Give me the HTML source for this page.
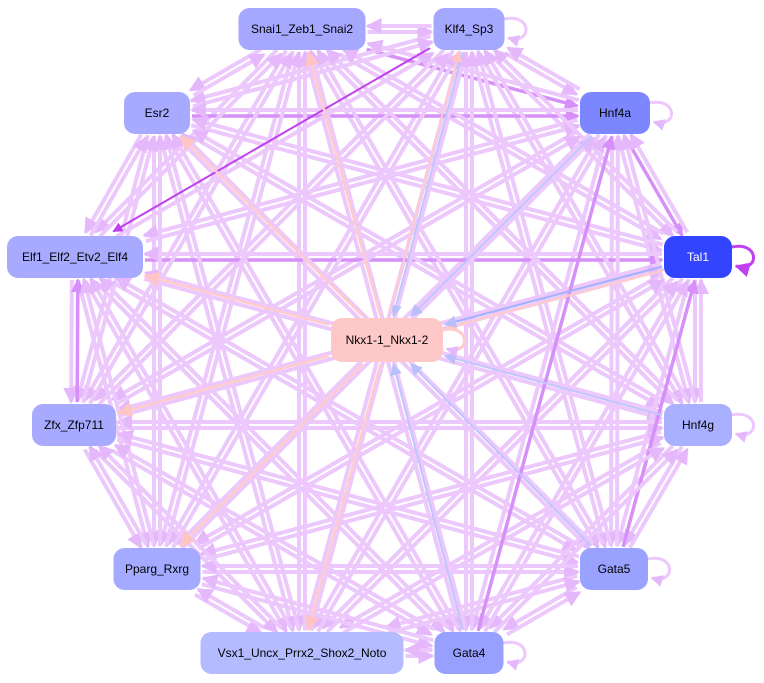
<!DOCTYPE html>
<html><head><meta charset="utf-8"><style>
html,body{margin:0;padding:0;background:#fff;width:764px;height:683px;overflow:hidden}
svg{display:block}
text{font-family:"Liberation Sans",sans-serif;font-size:12px}
</style></head><body>
<svg id="s" width="764" height="683" xmlns="http://www.w3.org/2000/svg">
<defs>
<marker id="ml" markerWidth="4" markerHeight="4" refX="3.5" refY="2" orient="auto" markerUnits="strokeWidth"><path d="M0,0L4,2L0,4z" fill="#e4b8fb"/></marker>
<marker id="md" markerWidth="4" markerHeight="4" refX="3.5" refY="2" orient="auto" markerUnits="strokeWidth"><path d="M0,0L4,2L0,4z" fill="#d690f8"/></marker>
<marker id="mp" markerWidth="5" markerHeight="5" refX="4.5" refY="2.5" orient="auto" markerUnits="strokeWidth"><path d="M0,0L5,2.5L0,5z" fill="#c040f0"/></marker>
<marker id="mb" markerWidth="6" markerHeight="6" refX="5.5" refY="3" orient="auto" markerUnits="strokeWidth"><path d="M0,0L6,3L0,6z" fill="#b8c0fc"/></marker>
<marker id="mk" markerWidth="6" markerHeight="6" refX="5.5" refY="3" orient="auto" markerUnits="strokeWidth"><path d="M0,0L6,3L0,6z" fill="#ffc4c4"/></marker>
</defs>
<g id="e"></g><g id="n"></g>
</svg>
<script>
var N={
S:[302,29,127,42,"#a6a8ff","Snai1_Zeb1_Snai2"],
K:[469,29,71,42,"#a4a8ff","Klf4_Sp3"],
E:[157,113,66,42,"#a8aaff","Esr2"],
H:[615,113,70,42,"#7b86ff","Hnf4a"],
L:[75,257,136,42,"#a8aaff","Elf1_Elf2_Etv2_Elf4"],
T:[698,257,68,42,"#3344ff","Tal1"],
X:[387,340,112,44,"#ffc8c8","Nkx1-1_Nkx1-2"],
Z:[74,425,84,42,"#a8aaff","Zfx_Zfp711"],
G:[698,425,68,42,"#a8b0ff","Hnf4g"],
P:[157,569,87,42,"#a4aaff","Pparg_Rxrg"],
F:[614,569,68,42,"#9aa2ff","Gata5"],
V:[302,653,203,42,"#b4bbff","Vsx1_Uncx_Prrx2_Shox2_Noto"],
A:[469,653,69,42,"#98a0ff","Gata4"]};
var ns="http://www.w3.org/2000/svg",eg=document.getElementById("e"),ng=document.getElementById("n");
function clip(n,dx,dy){var hw=n[2]/2+2,hh=n[3]/2+2;var t=Math.min(dx?hw/Math.abs(dx):1e9,dy?hh/Math.abs(dy):1e9);return [n[0]+dx*t,n[1]+dy*t];}
function line(a,b,col,w,m,off){var A=N[a],B=N[b];var dx=B[0]-A[0],dy=B[1]-A[1],l=Math.hypot(dx,dy);var ox=-dy/l*off,oy=dx/l*off;
var p=clip(A,dx,dy),q=clip(B,-dx,-dy);var el=document.createElementNS(ns,"line");
el.setAttribute("x1",p[0]+ox);el.setAttribute("y1",p[1]+oy);el.setAttribute("x2",q[0]+ox);el.setAttribute("y2",q[1]+oy);
el.setAttribute("stroke",col);el.setAttribute("stroke-width",w);el.setAttribute("marker-end","url(#"+m+")");eg.appendChild(el);}
var keys="SKEHLTZGPFVA".split("");
var dark={"HT":1,"LT":1,"EH":1,"SH":1,"ZL":1,"AH":1,"FT":1};
for(var i=0;i<keys.length;i++)for(var j=0;j<keys.length;j++){if(i==j)continue;var a=keys[i],b=keys[j];
if(a=="K"&&b=="L")continue;
var d=dark[a+b];line(a,b,d?"#d690f8":"#ecc8fc",d?3.5:4,d?"md":"ml",3);}
line("K","L","#c040f0",2,"mp",3);
["K","H","T","G","A","F"].forEach(function(k){line(k,"X","#c0c6fc",2,"mb",0);});
["S","E","L","Z","P","V"].forEach(function(k){line("X",k,"#ffcccc",2.5,"mk",0);});
line("X","K","#ffcccc",2,"mk",-4);line("T","X","#ffcccc",2,"mk",-4);line("T","X","#a8b0fc",2,"mb",0);
function loop(k,col,w){var n=N[k];var x=n[0]+n[2]/2,y=n[1];var p=document.createElementNS(ns,"path");
p.setAttribute("d","M"+(x)+","+(y-10)+" C"+(x+28)+","+(y-16)+" "+(x+28)+","+(y+16)+" "+(x+4)+","+(y+9));
p.setAttribute("fill","none");p.setAttribute("stroke",col);p.setAttribute("stroke-width",w);p.setAttribute("marker-end","url(#"+(col=="#c040f0"?"mp":"ml")+")");eg.appendChild(p);}
["K","H","G","F","A","X"].forEach(function(k){loop(k,k=="X"?"#ffcccc":"#ecc8fc",3);});
loop("T","#c040f0",3);
for(var k in N){var n=N[k];var r=document.createElementNS(ns,"rect");r.setAttribute("x",n[0]-n[2]/2);r.setAttribute("y",n[1]-n[3]/2);
r.setAttribute("width",n[2]);r.setAttribute("height",n[3]);r.setAttribute("rx",11);r.setAttribute("fill",n[4]);ng.appendChild(r);
var t=document.createElementNS(ns,"text");t.setAttribute("x",n[0]);t.setAttribute("y",n[1]+4);t.setAttribute("text-anchor","middle");
t.setAttribute("fill",k=="T"?"#ffffff":"#000");t.textContent=n[5];ng.appendChild(t);}
</script>
</body></html>
